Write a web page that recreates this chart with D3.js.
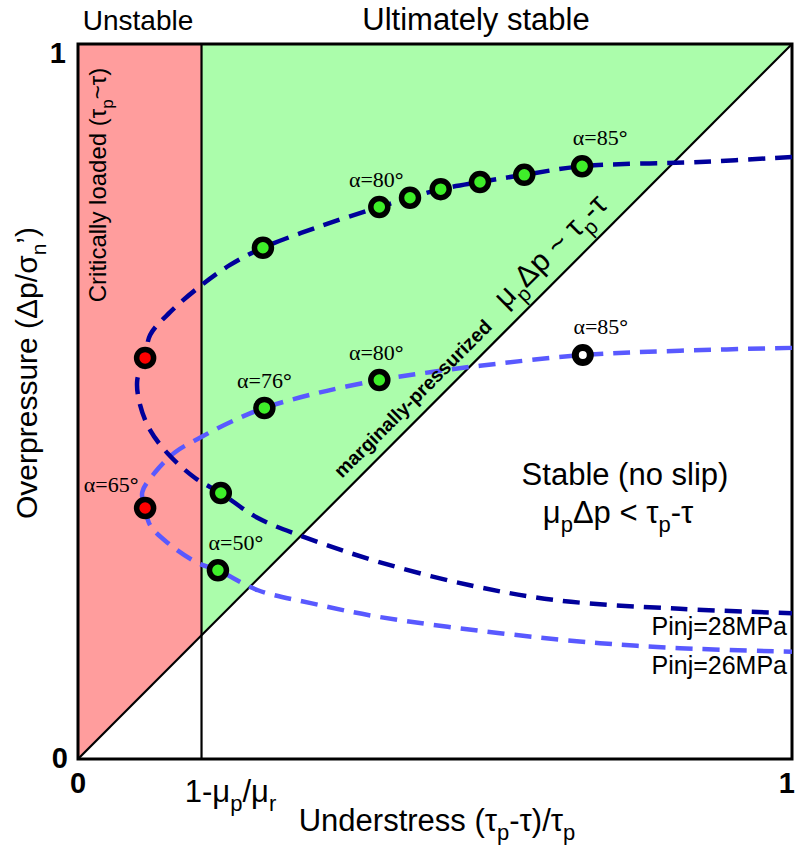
<!DOCTYPE html>
<html>
<head>
<meta charset="utf-8">
<script src="https://cdn.jsdelivr.net/npm/d3@7"></script>
<style>
  html, body { margin: 0; padding: 0; background: #fff; }
  svg { display: block; }
</style>
</head>
<body>
<svg id="chart" width="795" height="847"></svg>
<script>
// Frictional boundary position 1 - mu_p/mu_r on the understress axis
const boundaryX = 0.173;

// Pressure path for Pinj = 28 MPa (understress, overpressure)
const path28 = [
  [1.000, 0.842], [0.871, 0.835], [0.706, 0.829], [0.625, 0.817], [0.563, 0.807],
  [0.508, 0.797], [0.465, 0.785], [0.422, 0.772], [0.339, 0.745], [0.259, 0.715],
  [0.213, 0.691], [0.172, 0.662], [0.129, 0.625], [0.101, 0.593], [0.094, 0.561],
  [0.083, 0.530], [0.087, 0.495], [0.101, 0.460], [0.126, 0.427], [0.164, 0.393],
  [0.200, 0.372], [0.252, 0.337], [0.318, 0.310], [0.420, 0.276], [0.549, 0.243],
  [0.671, 0.222], [0.843, 0.210], [1.000, 0.204]
];

// Pressure path for Pinj = 26 MPa
const path26 = [
  [1.000, 0.575], [0.843, 0.571], [0.707, 0.565], [0.563, 0.550], [0.493, 0.541],
  [0.422, 0.530], [0.336, 0.512], [0.261, 0.491], [0.213, 0.471], [0.172, 0.450],
  [0.136, 0.429], [0.108, 0.401], [0.090, 0.373], [0.094, 0.351], [0.101, 0.327],
  [0.126, 0.302], [0.168, 0.274], [0.196, 0.264], [0.252, 0.236], [0.326, 0.218],
  [0.420, 0.199], [0.591, 0.176], [0.731, 0.162], [0.843, 0.155], [1.000, 0.150]
];

// Fault states along each path: x, y, state, dip angle label (null = unlabeled)
const faults28X     = [0.094, 0.259, 0.422, 0.465, 0.508, 0.563, 0.625, 0.706, 0.200];
const faults28Y     = [0.561, 0.715, 0.772, 0.785, 0.797, 0.807, 0.817, 0.829, 0.372];
const faults28State = ["slip", "stable", "stable", "stable", "stable", "stable", "stable", "stable", "stable"];
const faults28Alpha = [null, null, 80, null, null, null, null, 85, null];

const faults26X     = [0.094, 0.196, 0.261, 0.422, 0.707];
const faults26Y     = [0.351, 0.264, 0.491, 0.530, 0.565];
const faults26State = ["slip", "stable", "stable", "stable", "noslip"];
const faults26Alpha = [65, 50, 76, 80, 85];

const seriesNames = ["Pinj=28MPa", "Pinj=26MPa"];
const seriesEnds = [0.204, 0.150];

const svg = d3.select("#chart");
const sans = "'Liberation Sans', Arial, sans-serif";
const serif = "'Liberation Serif', 'Times New Roman', serif";

const x = d3.scaleLinear().domain([0, 1]).range([78, 792]);
const y = d3.scaleLinear().domain([0, 1]).range([759, 44]);

// Regions
const poly = d3.line().x(d => x(d[0])).y(d => y(d[1]));
svg.append("path")
  .attr("d", poly([[0, 0], [0, 1], [boundaryX, 1], [boundaryX, boundaryX]]) + "Z")
  .attr("fill", "#ff9d9d");
svg.append("path")
  .attr("d", poly([[boundaryX, boundaryX], [boundaryX, 1], [1, 1]]) + "Z")
  .attr("fill", "#abfdab");

// Frame, boundary and failure line
svg.append("line").attr("x1", x(boundaryX)).attr("x2", x(boundaryX))
  .attr("y1", y(0)).attr("y2", y(1)).attr("stroke", "#000").attr("stroke-width", 2.2);
svg.append("line").attr("x1", x(0)).attr("y1", y(0)).attr("x2", x(1)).attr("y2", y(1))
  .attr("stroke", "#000").attr("stroke-width", 2.2);
svg.append("rect").attr("x", x(0)).attr("y", y(1))
  .attr("width", x(1) - x(0)).attr("height", y(0) - y(1))
  .attr("fill", "none").attr("stroke", "#000").attr("stroke-width", 3);

// Pressure paths
const curve = d3.line().x(d => x(d[0])).y(d => y(d[1])).curve(d3.curveCatmullRom.alpha(0.5));
svg.append("path").attr("d", curve(path26)).attr("fill", "none")
  .attr("stroke", "#5959ff").attr("stroke-width", 4.5).attr("stroke-dasharray", "17,10");
svg.append("path").attr("d", curve(path28)).attr("fill", "none")
  .attr("stroke", "#00009b").attr("stroke-width", 4.5).attr("stroke-dasharray", "17,10");

// Fault markers
const fillFor = { slip: "#ff0000", stable: "#3fee2a", noslip: "#ffffff" };
function drawFaults(xs, ys, states) {
  svg.append("g").selectAll("circle")
    .data(xs.map((v, i) => ({ x: v, y: ys[i], s: states[i] })))
    .join("circle")
    .attr("cx", d => x(d.x)).attr("cy", d => y(d.y))
    .attr("r", d => d.s === "noslip" ? 7.5 : 8.5)
    .attr("fill", d => fillFor[d.s])
    .attr("stroke", "#000")
    .attr("stroke-width", d => d.s === "noslip" ? 7 : 5.5);
}
drawFaults(faults26X, faults26Y, faults26State);
drawFaults(faults28X, faults28Y, faults28State);

// Dip angle labels, placed relative to their marker
const labelOffset = { 85: [18, -21], 80: [-3, -20], 76: [0, -20], 65: [-34, -16], 50: [18, -20] };
function drawAlpha(xs, ys, alphas) {
  alphas.forEach((a, i) => {
    if (a === null) return;
    const o = labelOffset[a];
    const t = svg.append("text")
      .attr("x", x(xs[i]) + o[0]).attr("y", y(ys[i]) + o[1])
      .attr("text-anchor", "middle").attr("font-family", serif).attr("font-size", 22);
    t.append("tspan").text("α=" + a);
    t.append("tspan").attr("font-weight", "bold").text("°");
  });
}
drawAlpha(faults28X, faults28Y, faults28Alpha);
drawAlpha(faults26X, faults26Y, faults26Alpha);

// Series names at the right end of each path
seriesNames.forEach((name, i) => {
  svg.append("text").attr("x", 787).attr("y", y(seriesEnds[i]) + 22)
    .attr("text-anchor", "end").attr("font-family", sans).attr("font-size", 25)
    .text(name);
});

// Text with subscripts: strings are normal runs, {sub, dy} are lowered runs
function rich(sel, parts, subSize) {
  let shift = 0;
  parts.forEach(p => {
    if (typeof p === "string") {
      const ts = sel.append("tspan").text(p);
      if (shift) { ts.attr("dy", -shift); shift = 0; }
    } else {
      sel.append("tspan").attr("dy", p.dy - shift).attr("font-size", subSize).text(p.sub);
      shift = p.dy;
    }
  });
  return sel;
}

// Region titles
svg.append("text").attr("x", 138).attr("y", 30).attr("text-anchor", "middle")
  .attr("font-family", sans).attr("font-size", 28).text("Unstable");
svg.append("text").attr("x", 476).attr("y", 30).attr("text-anchor", "middle")
  .attr("font-family", sans).attr("font-size", 31).text("Ultimately stable");

// Tick labels
const tickStyle = s => s.attr("font-family", sans).attr("font-size", 29).attr("font-weight", "bold");
tickStyle(svg.append("text").attr("x", 66).attr("y", 63).attr("text-anchor", "end").text("1"));
tickStyle(svg.append("text").attr("x", 68).attr("y", 768).attr("text-anchor", "end").text("0"));
tickStyle(svg.append("text").attr("x", x(0)).attr("y", 793).attr("text-anchor", "middle").text("0"));
tickStyle(svg.append("text").attr("x", 795).attr("y", 793).attr("text-anchor", "end").text("1"));

rich(svg.append("text").attr("x", x(boundaryX) + 29).attr("y", 802).attr("text-anchor", "middle")
  .attr("font-family", sans).attr("font-size", 31),
  ["1-μ", { sub: "p", dy: 9 }, "/μ", { sub: "r", dy: 9 }], 22);

// Axis titles
rich(svg.append("text").attr("x", 437).attr("y", 831).attr("text-anchor", "middle")
  .attr("font-family", sans).attr("font-size", 31),
  ["Understress (τ", { sub: "p", dy: 9 }, "-τ)/τ", { sub: "p", dy: 9 }], 22);

rich(svg.append("text").attr("transform", "translate(37,373) rotate(-90)")
  .attr("text-anchor", "middle").attr("font-family", sans).attr("font-size", 30),
  ["Overpressure (Δp/σ", { sub: "n", dy: 9 }, "’)"], 21);

rich(svg.append("text").attr("transform", "translate(106,185) rotate(-90)")
  .attr("text-anchor", "middle").attr("font-family", sans).attr("font-size", 24),
  ["Critically loaded (τ", { sub: "p", dy: 7 }, "~τ)"], 17);

// Labels along the failure line
function along(t, dist) {
  const px = x(t) - dist / Math.SQRT2, py = y(t) - dist / Math.SQRT2;
  return `translate(${px},${py}) rotate(-45)`;
}
svg.append("text").attr("transform", along(0.4865, 18))
  .attr("text-anchor", "middle").attr("dominant-baseline", "central")
  .attr("font-family", sans).attr("font-size", 19.5).attr("font-weight", "bold")
  .text("marginally-pressurized");

rich(svg.append("text").attr("transform", along(0.686, 15))
  .attr("text-anchor", "middle").attr("font-family", sans).attr("font-size", 30),
  ["μ", { sub: "p", dy: 9 }, "Δp ~ τ", { sub: "p", dy: 9 }, "-τ"], 21);

// Stable region annotation
svg.append("text").attr("x", 625).attr("y", 485).attr("text-anchor", "middle")
  .attr("font-family", sans).attr("font-size", 31).text("Stable (no slip)");
rich(svg.append("text").attr("x", 618).attr("y", 523).attr("text-anchor", "middle")
  .attr("font-family", sans).attr("font-size", 31),
  ["μ", { sub: "p", dy: 9 }, "Δp < τ", { sub: "p", dy: 9 }, "-τ"], 22);
</script>
</body>
</html>
